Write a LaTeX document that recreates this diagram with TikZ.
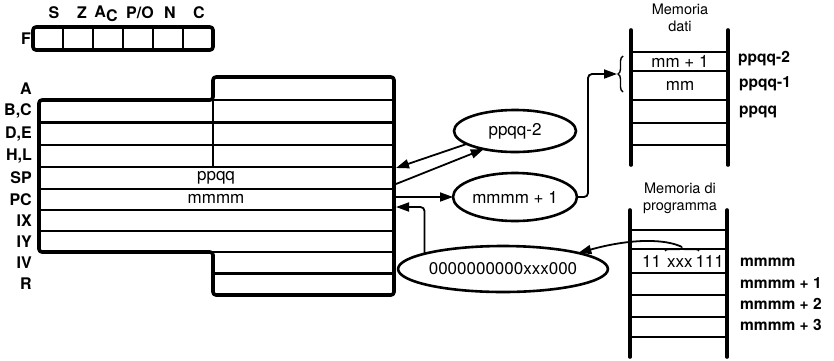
\documentclass[tikz,border=0pt]{standalone}
\usepackage{fontspec}
\setmainfont{TeX Gyre Heros}
\usetikzlibrary{arrows.meta,shapes.geometric,decorations.pathreplacing,calc}
\begin{document}
\begin{tikzpicture}[x=1pt,y=-1pt,
  outer/.style={line width=3.6pt, line join=round, rounded corners=3pt},
  rowline/.style={line width=2.2pt},
  reglbl/.style={font=\fontsize{16}{16}\selectfont\bfseries, anchor=east, inner sep=0pt},
  flaglbl/.style={font=\fontsize{16}{16}\selectfont\bfseries, inner sep=0pt},
  txt/.style={font=\fontsize{17}{17}\selectfont, inner sep=0pt},
  memlbl/.style={font=\fontsize{15.5}{15.5}\selectfont\bfseries, anchor=west, inner sep=0pt},
  memtitle/.style={font=\fontsize{14.5}{17}\selectfont, align=center, inner sep=0pt},
  ell/.style={draw, ellipse, line width=2.6pt, inner sep=0pt, outer sep=0pt,
    font=\fontsize{17}{17}\selectfont},
  arr/.style={line width=1.8pt, -{Triangle[length=13pt,width=9pt]}},
  memv/.style={line width=3.6pt, line cap=round},
  memh/.style={line width=2.2pt},
  ]
\useasboundingbox (0,0) rectangle (834,360);

% ---------- flags ----------
\draw[outer] (33,27) rectangle (213,50);
\foreach \x in {63,93,123,153,183} \draw[rowline] (\x,27) -- (\x,50);
\node[reglbl] (lF) at (31,39) {F};
\node[flaglbl] (fS) at (54,13) {S};
\node[flaglbl] (fZ) at (82,13) {Z};
\node[flaglbl] (fA) at (106,14) {A\raisebox{-4pt}{C}};
\node[flaglbl] (fP) at (140,13) {P/O};
\node[flaglbl] (fN) at (170,13) {N};
\node[flaglbl] (fC) at (199,13) {C};

% ---------- registers ----------
\draw[outer] (213,77) -- (394,77) -- (394,295) -- (213,295) -- (213,252)
  -- (39,252) -- (39,100) -- (213,100) -- cycle;
\foreach \y in {122.5,145,167,189,210,231} \draw[rowline] (39,\y) -- (394,\y);
\foreach \y in {100,252,273.5} \draw[rowline] (213,\y) -- (394,\y);
\draw[rowline] (213,100) -- (213,167);

\node[reglbl] (lA)  at (32,88.5) {A};
\node[reglbl] (lBC) at (32,111) {B,C};
\node[reglbl] (lDE) at (32,134) {D,E};
\node[reglbl] (lHL) at (32,156) {H,L};
\node[reglbl] (lSP) at (32,178) {SP};
\node[reglbl] (lPC) at (32,199.5) {PC};
\node[reglbl] (lIX) at (32,220.5) {IX};
\node[reglbl] (lIY) at (32,241.5) {IY};
\node[reglbl] (lIV) at (32,262.5) {IV};
\node[reglbl] (lR)  at (32,284) {R};

\node[txt] (tSP) at (216,178) {ppqq};
\node[txt] (tPC) at (216,199) {mmmm};

\coordinate (rSPin)  at (396,168);
\coordinate (rSPout) at (396,184);
\coordinate (rPCout) at (396,197);
\coordinate (rPCin)  at (396,207);

% ---------- ellipses ----------
\node[ell, minimum width=122pt, minimum height=42pt] (e1) at (515,131) {ppqq-2};
\node[ell, minimum width=124pt, minimum height=48pt] (e2) at (515,197) {mmmm + 1};
\node[ell, minimum width=192pt, minimum height=46pt] (e3) at (503,269) {0000000000xxx000};

% ---------- memoria dati ----------
\node[memtitle] (mdT) at (680,18) {Memoria\\dati};
\draw[memv] (631,30) -- (631,165);
\draw[memv] (728,30) -- (728,165);
\foreach \y in {52,71,100,123,145} \draw[memh] (631,\y) -- (728,\y);
\node[txt] (md1) at (680,61.5) {mm + 1};
\node[txt] (md2) at (680,85.5) {mm};
\node[memlbl] (mdl1) at (738,59) {ppqq-2};
\node[memlbl] (mdl2) at (739,84) {ppqq-1};
\node[memlbl] (mdl3) at (739,112) {ppqq};
\draw[line width=1.4pt, decorate, decoration={brace, amplitude=5pt}]
  (623,92) -- (623,56);
\coordinate (dbr) at (617,74);

% ---------- memoria di programma ----------
\node[memtitle] (mpT) at (680,198) {Memoria di\\programma};
\draw[memv] (630,210) -- (630,357);
\draw[memv] (727,210) -- (727,357);
\foreach \y in {230,249,273,295,317,337} \draw[memh] (630,\y) -- (727,\y);
\node[txt] (mp1) at (683,261) {11\hspace{6pt}xxx\hspace{3pt}111};
\node[memlbl] (mpl1) at (740,262) {mmmm};
\node[memlbl] (mpl2) at (740,283) {mmmm + 1};
\node[memlbl] (mpl3) at (740,304) {mmmm + 2};
\node[memlbl] (mpl4) at (740,325) {mmmm + 3};
\draw[line width=1.3pt, decorate, decoration={brace, amplitude=3pt}]
  (665,251) -- (699,251);
\coordinate (xtip) at (682,247);

% ---------- connectors ----------
\draw[arr] (e1.-165) -- (rSPin);
\draw[arr] (rSPout) -- (e1.-150);
\draw[arr] (rPCout) -- (e2.west);
\draw[arr, rounded corners=4pt] (e3.169) |- (rPCin);
\draw[arr, rounded corners=4pt] (e2.east) -- ++(11,0) |- (dbr);
\draw[arr] (xtip) .. controls (666,239) and (632,238) .. (e3.12);
\end{tikzpicture}
\end{document}
